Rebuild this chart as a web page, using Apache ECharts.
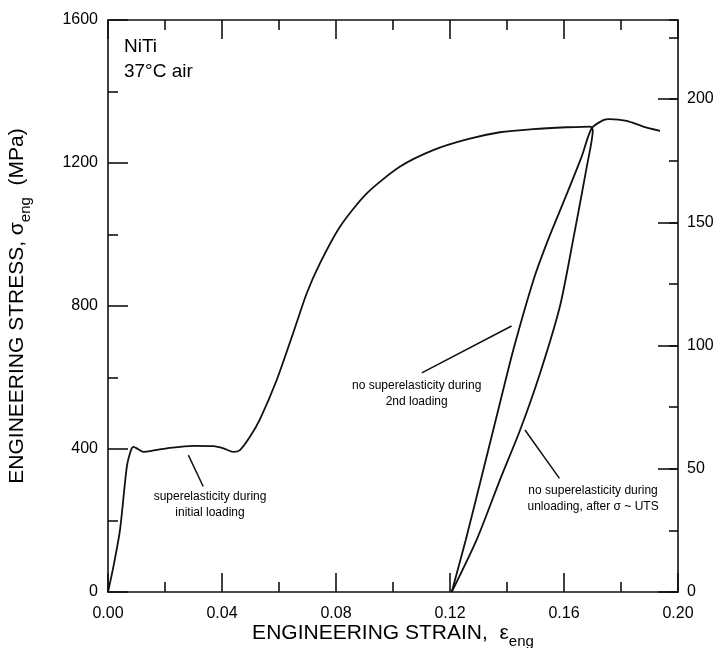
<!DOCTYPE html>
<html>
<head>
<meta charset="utf-8">
<script src="https://cdn.jsdelivr.net/npm/echarts@6/dist/echarts.min.js"></script>
<style>
  html, body { margin: 0; padding: 0; background: #fff; }
  #chart { width: 718px; height: 648px; }
</style>
</head>
<body>
<div id="chart"></div>
<script>
// NiTi tensile test at 37 °C in air: engineering strain vs engineering stress (MPa)

// First loading: superelastic plateau, hardening, up to the unload point
const loading1 = [
  [0.0000, 0], [0.0019, 71], [0.0042, 173], [0.0066, 350], [0.0080, 395],
  [0.0089, 406], [0.0105, 400], [0.0124, 392], [0.0160, 396], [0.0206, 402],
  [0.0299, 409], [0.0370, 408], [0.0405, 402], [0.0440, 392], [0.0463, 397],
  [0.0498, 434], [0.0533, 483], [0.0592, 593], [0.0650, 725], [0.0697, 835],
  [0.0744, 920], [0.0814, 1022], [0.0908, 1115], [0.1025, 1190], [0.1141, 1236],
  [0.1259, 1266], [0.1375, 1286], [0.1492, 1295], [0.1610, 1300], [0.1695, 1302]
];

// Unloading from near UTS back to zero stress
const unloading = [
  [0.1695, 1302], [0.1701, 1292], [0.1680, 1190], [0.1632, 985], [0.1586, 800],
  [0.1516, 612], [0.1446, 453], [0.1375, 313], [0.1293, 145], [0.1206, 0]
];

// Second loading, continuing past the unload point to the end of the test
const loading2 = [
  [0.1206, 0], [0.1255, 145], [0.1314, 332], [0.1372, 518], [0.1422, 677],
  [0.1493, 873], [0.1544, 985], [0.1601, 1096], [0.1662, 1218], [0.1697, 1297],
  [0.1738, 1320], [0.1760, 1323], [0.1820, 1318], [0.1878, 1302], [0.1937, 1290]
];

// Axis ranges and ticks
const strainTicks = [0, 0.04, 0.08, 0.12, 0.16, 0.20];
const stressTicks = [0, 400, 800, 1200, 1600];
const MPA_PER_KSI = 6.894757;
const ksiMax = 1600 / MPA_PER_KSI;

// Annotations: [strain, stress, text]
const notes = [
  [0.0358, 243, 'superelasticity during\ninitial loading'],
  [0.1083, 555, 'no superelasticity during\n2nd loading'],
  [0.1702, 261, 'no superelasticity during\nunloading, after \u03c3 ~ UTS']
];
// Leader lines: [[strain, stress], [strain, stress]]
const leaders = [
  [[0.0282, 383], [0.0334, 295]],
  [[0.1101, 613], [0.1416, 744]],
  [[0.1463, 453], [0.1584, 318]]
];
const sample = [0.0056, 1490, 'NiTi\n37\u00b0C air'];

const FONT = '"Liberation Sans", Arial, Helvetica, sans-serif';
const INK = '#000';

const chart = echarts.init(document.getElementById('chart'), null, { renderer: 'canvas' });

const lineStyleAxis = { color: '#111', width: 1.6 };

function curve(name, data) {
  return {
    name, type: 'line', data, xAxisIndex: 0, yAxisIndex: 0,
    showSymbol: false, smooth: 0.25, animation: false,
    lineStyle: { color: '#111', width: 1.8 }
  };
}

function noteLabel(size, lh, align) {
  return {
    show: true, position: 'inside', align, verticalAlign: 'middle',
    fontSize: size, lineHeight: lh, color: INK, fontFamily: FONT,
    textBorderWidth: 0, textBorderColor: 'transparent', opacity: 1,
    formatter: p => p.data.text
  };
}

// Rich-text styles for axis titles with a subscript
const titleRich = {
  t: { fontSize: 21, fontFamily: FONT, fill: INK, lineHeight: 27, verticalAlign: 'top' },
  g: { fontSize: 21, fontFamily: FONT, fill: INK, lineHeight: 27, verticalAlign: 'top' },
  s: { fontSize: 15, fontFamily: FONT, fill: INK, lineHeight: 22, verticalAlign: 'bottom' }
};

chart.setOption({
  animation: false,
  backgroundColor: '#fff',
  textStyle: { fontFamily: FONT, color: INK },
  grid: { left: 108, right: 40, top: 20, bottom: 56, containLabel: false },
  xAxis: [
    {
      type: 'value', position: 'bottom',
      min: strainTicks[0], max: strainTicks[strainTicks.length - 1], interval: 0.04,
      axisLine: { onZero: false, lineStyle: lineStyleAxis },
      axisTick: { inside: true, length: 19, lineStyle: lineStyleAxis },
      minorTick: { show: true, splitNumber: 2, length: 10, lineStyle: lineStyleAxis },
      axisLabel: { fontSize: 16, color: INK, fontFamily: FONT, margin: 14,
                   formatter: v => v.toFixed(2) },
      splitLine: { show: false }
    },
    {
      type: 'value', position: 'top',
      min: strainTicks[0], max: strainTicks[strainTicks.length - 1], interval: 0.04,
      axisLine: { onZero: false, lineStyle: lineStyleAxis },
      axisTick: { inside: true, length: 19, lineStyle: lineStyleAxis },
      minorTick: { show: true, splitNumber: 2, length: 10, lineStyle: lineStyleAxis },
      axisLabel: { show: false },
      splitLine: { show: false }
    }
  ],
  yAxis: [
    {
      type: 'value', position: 'left',
      min: stressTicks[0], max: stressTicks[stressTicks.length - 1], interval: 400,
      axisLine: { show: true, onZero: false, lineStyle: lineStyleAxis },
      axisTick: { show: true, inside: true, length: 20, lineStyle: lineStyleAxis },
      minorTick: { show: true, splitNumber: 2, length: 10, lineStyle: lineStyleAxis },
      axisLabel: { fontSize: 16, color: INK, fontFamily: FONT, margin: 10,
                   formatter: v => String(v) },
      splitLine: { show: false }
    },
    {
      // ksi scale, major ticks with labels
      type: 'value', position: 'right',
      min: 0, max: ksiMax, interval: 50,
      axisLine: { show: true, onZero: false, lineStyle: lineStyleAxis },
      axisTick: { show: true, inside: true, length: 20, lineStyle: lineStyleAxis },
      axisLabel: { fontSize: 16, color: INK, fontFamily: FONT, margin: 9,
                   showMaxLabel: false, formatter: v => String(v) },
      splitLine: { show: false }
    },
    {
      // ksi scale, short ticks every 25 ksi
      type: 'value', position: 'right',
      min: 0, max: ksiMax, interval: 25,
      axisLine: { show: false, onZero: false },
      axisTick: { show: true, inside: true, length: 9, lineStyle: lineStyleAxis },
      axisLabel: { show: false },
      splitLine: { show: false }
    }
  ],
  graphic: [
    {
      type: 'text', x: 20, y: 306, rotation: Math.PI / 2,
      style: {
        text: '{t|ENGINEERING STRESS, }{g|\u03c3}{s|eng}{t|  (MPa)}',
        align: 'center', verticalAlign: 'middle',
        rich: titleRich
      }
    },
    {
      type: 'text', x: 393, y: 636,
      style: {
        text: '{t|ENGINEERING STRAIN,  }{g|\u03b5}{s|eng}',
        align: 'center', verticalAlign: 'middle',
        rich: titleRich
      }
    }
  ],
  series: [
    curve('first loading', loading1),
    curve('unloading', unloading),
    curve('second loading', loading2),
    {
      name: 'leaders', type: 'lines', coordinateSystem: 'cartesian2d',
      xAxisIndex: 0, yAxisIndex: 0, silent: true,
      lineStyle: { color: '#111', width: 1.5, opacity: 1 },
      data: leaders.map(c => ({ coords: c }))
    },
    {
      name: 'notes', type: 'scatter', xAxisIndex: 0, yAxisIndex: 0,
      symbolSize: 0, silent: true, itemStyle: { opacity: 1 },
      data: notes.map(n => ({ value: [n[0], n[1]], text: n[2] })),
      label: noteLabel(12, 16, 'center')
    },
    {
      name: 'sample', type: 'scatter', xAxisIndex: 0, yAxisIndex: 0,
      symbolSize: 0, silent: true, itemStyle: { opacity: 1 },
      data: [{ value: [sample[0], sample[1]], text: sample[2] }],
      label: noteLabel(19, 25, 'left')
    }
  ]
});
</script>
</body>
</html>
